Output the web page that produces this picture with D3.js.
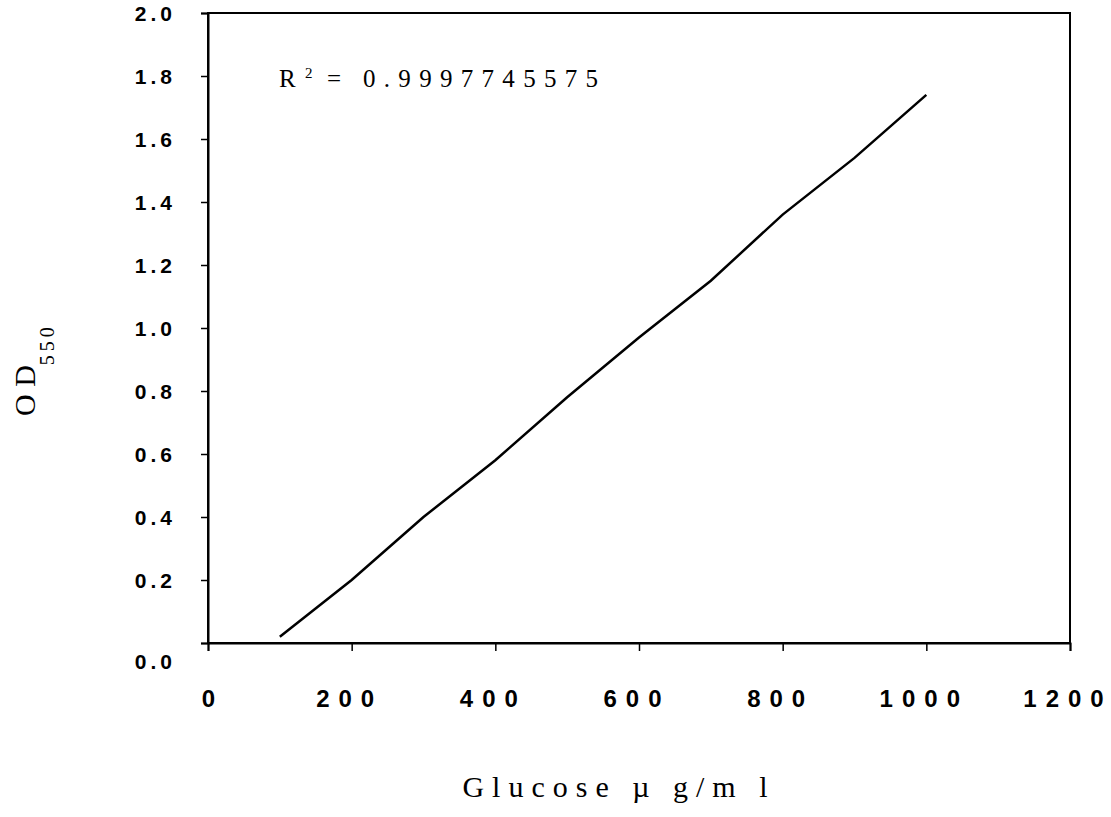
<!DOCTYPE html>
<html>
<head>
<meta charset="utf-8">
<script src="https://cdn.jsdelivr.net/npm/d3@7"></script>
<style>
  body { margin: 0; background: #fff; }
</style>
</head>
<body>
<figure id="plot" style="margin:0"></figure>
<script>
// standard curve values
const glucose = [100, 200, 300, 400, 500, 600, 700, 800, 900, 1000];
const od = [0.02, 0.20, 0.40, 0.58, 0.78, 0.97, 1.15, 1.36, 1.54, 1.74];
const xTicks = [0, 200, 400, 600, 800, 1000, 1200];
const yTicks = [0.0, 0.2, 0.4, 0.6, 0.8, 1.0, 1.2, 1.4, 1.6, 1.8, 2.0];
const r2Text = "0.9997745575";

const width = 1111, height = 817;
const margin = { left: 208, right: 41, top: 13, bottom: 174 };
const w = width - margin.left - margin.right;
const h = height - margin.top - margin.bottom;

const svg = d3.select("figure#plot")
  .append("svg")
  .attr("width", width)
  .attr("height", height);

const g = svg.append("g")
  .attr("transform", "translate(" + margin.left + "," + margin.top + ")");

const x = d3.scaleLinear().domain([0, 1200]).range([0, w]);
const y = d3.scaleLinear().domain([0, 2]).range([h, 0]);

// frame
g.append("rect")
  .attr("x", 0).attr("y", 0)
  .attr("width", w).attr("height", h)
  .attr("fill", "none")
  .attr("stroke", "#000")
  .attr("stroke-width", 2);

// spaced-out digits without trailing gap
function spaceOut(sel, gap) {
  sel.each(function() {
    const t = d3.select(this);
    const s = t.text();
    t.text(null);
    s.split("").forEach((c, i) => {
      t.append("tspan").attr("dx", i === 0 ? 0 : gap).text(c);
    });
  });
}

// x axis
const xAxis = g.append("g")
  .attr("transform", "translate(0," + h + ")")
  .call(d3.axisBottom(x).tickValues(xTicks).tickSize(8).tickFormat(d => String(d)));
xAxis.select(".domain").attr("stroke-width", 2);
xAxis.selectAll("line").attr("stroke-width", 1.5);
xAxis.selectAll("text")
  .attr("y", 0)
  .attr("x", d => d === 0 ? 0 : -7)
  .attr("dy", 64)
  .style("font-family", "Arial, 'Liberation Sans', sans-serif")
  .style("font-size", "24px")
  .style("font-weight", "bold")
  .attr("fill", "#000")
  .call(spaceOut, 9);

// y axis
const yAxis = g.append("g")
  .call(d3.axisLeft(y).tickValues(yTicks).tickSize(7).tickFormat(d3.format(".1f")));
yAxis.select(".domain").attr("stroke-width", 2);
yAxis.selectAll("line").attr("stroke-width", 1.5);
yAxis.selectAll("text")
  .attr("x", -36)
  .attr("dy", (d) => d === 0 ? "1.2em" : "0.36em")
  .style("font-family", "Arial, 'Liberation Sans', sans-serif")
  .style("font-size", "21px")
  .style("font-weight", "bold")
  .attr("fill", "#000")
  .call(spaceOut, 4);

// fitted line
const pts = glucose.map((v, i) => ({ g: v, od: od[i] }));
g.append("path")
  .datum(pts)
  .attr("fill", "none")
  .attr("stroke", "#000")
  .attr("stroke-width", 2.5)
  .attr("d", d3.line().x(d => x(d.g)).y(d => y(d.od)));

// R squared
const r2 = svg.append("text")
  .attr("y", 87)
  .style("font-family", "'Liberation Serif', 'Times New Roman', serif")
  .style("font-size", "25px")
  .attr("fill", "#000");
r2.append("tspan").attr("x", 279).text("R");
r2.append("tspan").attr("x", 305).attr("font-size", "15px").attr("dy", -9).text("2");
r2.append("tspan").attr("x", 327).attr("dy", 9).text("=");
r2.append("tspan").attr("x", 363).style("letter-spacing", "8.3px").text(r2Text);

// y title
const yt = svg.append("text")
  .attr("transform", "translate(35,416) rotate(-90)")
  .style("font-family", "'Liberation Serif', 'Times New Roman', serif")
  .style("font-size", "30px")
  .attr("fill", "#000");
yt.append("tspan").text("O D");
yt.append("tspan").attr("font-size", "20px").attr("dy", 19).style("letter-spacing", "4px").text("550");

// x title
svg.append("text")
  .attr("x", 619)
  .attr("y", 797)
  .attr("text-anchor", "middle")
  .style("font-family", "'Liberation Serif', 'Times New Roman', serif")
  .style("font-size", "30px")
  .style("letter-spacing", "8px")
  .attr("fill", "#000")
  .text("Glucose µ g/m l");
</script>
</body>
</html>
